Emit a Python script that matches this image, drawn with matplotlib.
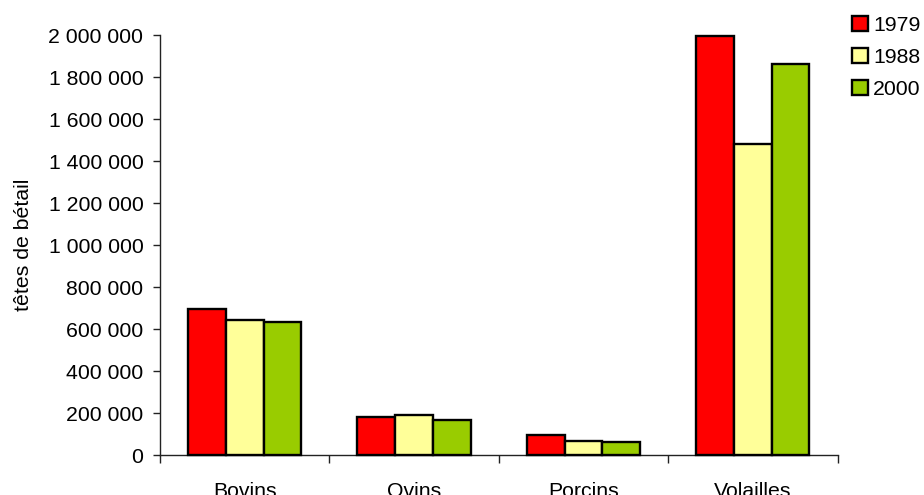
import matplotlib
matplotlib.use("Agg")
import matplotlib.pyplot as plt
import numpy as np
from matplotlib.ticker import FuncFormatter, FixedLocator

plt.rcParams['font.family'] = ['Liberation Sans', 'DejaVu Sans']

categories = ["Bovins", "Ovins", "Porcins", "Volailles"]
years = ["1979", "1988", "2000"]
values_1979 = [697000, 182000, 96000, 1997000]
values_1988 = [642000, 190000, 67000, 1481000]
values_2000 = [633000, 170000, 61000, 1864000]
series = [values_1979, values_1988, values_2000]
colors = ["#FF0000", "#FFFF99", "#99CC00"]

FS = 15.3

fig = plt.figure(figsize=(9.24, 4.95), dpi=100)
ax = fig.add_axes([0.1732, 0.0802, 0.7332, 0.8485])

x = np.arange(len(categories))
w = 0.223
for i, (vals, col, yr) in enumerate(zip(series, colors, years)):
    ax.bar(x + (i - 1) * w, vals, width=w, color=col, edgecolor="black",
           linewidth=1.7, label=yr, clip_on=False, zorder=3)

ax.set_xlim(-0.5, 3.5)
ax.set_ylim(0, 2000000)
ax.yaxis.set_major_locator(FixedLocator(np.arange(0, 2000001, 200000)))
ax.yaxis.set_major_formatter(FuncFormatter(lambda v, p: f"{int(v):,}".replace(",", " ")))

ax.set_xticks(np.arange(-0.5, 3.6, 1.0))
ax.set_xticklabels([])
ax.set_xticks(x, minor=True)
ax.set_xticklabels(categories, minor=True)
ax.tick_params(axis="x", which="major", length=6, width=1, direction="out", color="#222222")
ax.tick_params(axis="x", which="minor", length=0, pad=19, labelsize=FS)
ax.tick_params(axis="y", length=5, width=1, direction="out", color="#222222", labelsize=FS, pad=7)

for s in ["top", "right"]:
    ax.spines[s].set_visible(False)
for s in ["left", "bottom"]:
    ax.spines[s].set_color("#222222")
    ax.spines[s].set_linewidth(1)

ax.set_ylabel("têtes de bétail", fontsize=FS)
ax.yaxis.set_label_coords(-0.187, 0.5)

leg = fig.legend(loc="upper left", bbox_to_anchor=(0.913, 0.985), frameon=False,
                 fontsize=FS, handlelength=0.75, handleheight=0.75, handletextpad=0.25,
                 labelspacing=0.6, borderaxespad=0)

fig.savefig("out.png", dpi=100)
